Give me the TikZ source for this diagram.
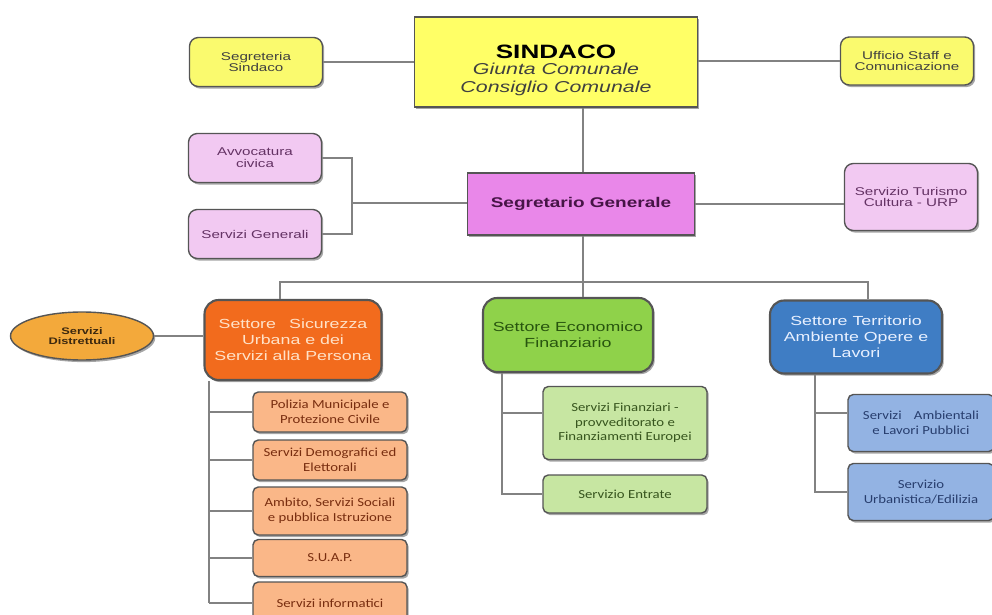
\documentclass[tikz,border=0pt]{standalone}
\usepackage{fontspec}
\setmainfont[FakeStretch=1.35]{Liberation Sans}
\newfontfamily\calfont[FakeStretch=1.2]{Carlito}
\usetikzlibrary{shapes.geometric,shadows}

\definecolor{bordo}{RGB}{85,85,85}
\definecolor{linea}{RGB}{130,130,130}
\definecolor{giallo}{RGB}{255,255,102}
\definecolor{gialloC}{RGB}{250,250,110}
\definecolor{viola}{RGB}{233,135,233}
\definecolor{violaT}{RGB}{70,20,70}
\definecolor{rosa}{RGB}{242,201,242}
\definecolor{rosaT}{RGB}{100,50,100}
\definecolor{arancio}{RGB}{242,107,29}
\definecolor{aranT}{RGB}{255,226,200}
\definecolor{aranEll}{RGB}{243,169,59}
\definecolor{ellT}{RGB}{60,40,15}
\definecolor{aranC}{RGB}{250,183,136}
\definecolor{aranCT}{RGB}{120,45,15}
\definecolor{verde}{RGB}{143,210,74}
\definecolor{verdeT}{RGB}{40,85,15}
\definecolor{verdeC}{RGB}{199,230,162}
\definecolor{verdeCT}{RGB}{55,85,30}
\definecolor{blu}{RGB}{63,125,196}
\definecolor{bluT}{RGB}{232,240,255}
\definecolor{bluC}{RGB}{147,179,227}
\definecolor{bluCT}{RGB}{40,62,110}

\begin{document}
\begin{tikzpicture}[x=0.02cm, y=-0.02cm,
    box/.style={draw=bordo, line width=0.8pt, align=center, inner sep=1pt,
        drop shadow={shadow xshift=1pt, shadow yshift=-1.2pt, fill=black, opacity=0.35}},
    rbox/.style={box, rounded corners=5pt},
    small/.style={rbox, minimum width=2.66cm, minimum height=0.98cm, font=\fontsize{6.4}{6.8}\selectfont},
    settore/.style={rbox, rounded corners=8pt, line width=1.2pt, font=\fontsize{7.5}{9}\selectfont},
    sub/.style={rbox, rounded corners=3pt, minimum width=3.08cm, font=\calfont\fontsize{7}{8.4}\selectfont},
    line/.style={draw=linea, line width=0.8pt}
]
    \path[use as bounding box, fill=white] (0,0) rectangle (992,615);

    % Sindaco
    \node[box, fill=giallo, minimum width=5.66cm, minimum height=1.8cm, font=\fontsize{9}{10}\selectfont] (sindaco) at (556,62)
        {\rule{0pt}{17pt}{\fontsize{11}{11}\selectfont\bfseries SINDACO}\\[-0.5pt]
         {\itshape\color{black!75}Giunta Comunale}\\
         {\itshape\color{black!75}Consiglio Comunale}};
    \node[small, fill=gialloC, text=black!75] (segreteria) at (256,62) {Segreteria\\Sindaco};
    \node[small, fill=gialloC, text=black!75, minimum height=0.96cm] (staff) at (907,61) {Ufficio Staff e\\Comunicazione};

    % Segretario
    \node[box, fill=viola, text=violaT, minimum width=4.54cm, minimum height=1.24cm,
        font=\fontsize{8}{10}\selectfont\bfseries] (segretario) at (581,204) {Segretario Generale};
    \node[small, fill=rosa, text=rosaT] (avvocatura) at (255,158) {Avvocatura\\civica};
    \node[small, fill=rosa, text=rosaT] (generali) at (255,234) {Servizi Generali};
    \node[small, fill=rosa, text=rosaT, minimum height=1.34cm] (turismo) at (911,197) {Servizio Turismo\\Cultura - URP};

    % Settori
    \node[settore, fill=arancio, text=aranT, minimum width=3.54cm, minimum height=1.6cm] (sicurezza) at (293,340)
        {Settore\quad Sicurezza\\Urbana e dei\\Servizi alla Persona};
    \node[settore, fill=verde, text=verdeT, minimum width=3.4cm, minimum height=1.48cm] (economico) at (568,335)
        {Settore Economico\\Finanziario};
    \node[settore, fill=blu, text=bluT, minimum width=3.44cm, minimum height=1.46cm] (territorio) at (856,337)
        {Settore Territorio\\Ambiente Opere e\\Lavori};
    \node[box, ellipse, fill=aranEll, text=ellT, minimum width=2.86cm, minimum height=0.96cm, inner sep=0pt,
        font=\fontsize{5.4}{6}\selectfont\bfseries] (distrettuali) at (82,336) {Servizi\\Distrettuali};

    % Uffici
    \node[sub, fill=aranC, text=aranCT, minimum height=0.8cm] (polizia) at (330,412) {Polizia Municipale e\\Protezione Civile};
    \node[sub, fill=aranC, text=aranCT, minimum height=0.8cm] (demografici) at (330,460) {Servizi Demografici ed\\Elettorali};
    \node[sub, fill=aranC, text=aranCT, minimum height=0.96cm] (ambito) at (330,511) {Ambito, Servizi Sociali\\e pubblica Istruzione};
    \node[sub, fill=aranC, text=aranCT, minimum height=0.74cm] (suap) at (330,558) {S.U.A.P.};
    \node[sub, fill=aranC, text=aranCT, minimum height=0.84cm] (informatici) at (330,603) {Servizi informatici};
    \node[sub, fill=verdeC, text=verdeCT, minimum width=3.28cm, minimum height=1.46cm] (finanziari) at (625,423)
        {Servizi Finanziari -\\provveditorato e\\Finanziamenti Europei};
    \node[sub, fill=verdeC, text=verdeCT, minimum width=3.28cm, minimum height=0.76cm] (entrate) at (625,494) {Servizio Entrate};
    \node[sub, fill=bluC, text=bluCT, minimum width=2.92cm, minimum height=1.14cm] (ambientali) at (921,423)
        {Servizi\quad Ambientali\\e Lavori Pubblici};
    \node[sub, fill=bluC, text=bluCT, minimum width=2.92cm, minimum height=1.14cm] (urbanistica) at (921,492)
        {Servizio\\Urbanistica/Edilizia};

    % Collegamenti
    \coordinate (tronco) at (583,282);
    \coordinate (busS) at (280,282);
    \coordinate (busD) at (868,282);
    \coordinate (graffa) at (352,203);
    \coordinate (spinaS) at (209,603);
    \coordinate (spinaE) at (502,495);
    \coordinate (spinaT) at (815,493);

    \draw[line] (segreteria) -- (sindaco);
    \draw[line] (sindaco.east |- staff) -- (staff);
    \draw[line] (sindaco.south -| tronco) -- (segretario.north -| tronco);
    \draw[line] (segretario.south -| tronco) -- (economico.north -| tronco);
    \draw[line] (sicurezza.north -| busS) -- (busS) -- (busD) -- (territorio.north -| busD);
    \draw[line] (avvocatura) -| (graffa) |- (generali);
    \draw[line] (graffa) -- (graffa -| segretario.west);
    \draw[line] (segretario.east) -- (segretario.east -| turismo.west);
    \draw[line] (distrettuali) -- (distrettuali -| sicurezza.west);

    \draw[line] (sicurezza.south -| spinaS) -- (spinaS);
    \foreach \n in {polizia, demografici, ambito, suap, informatici}
        \draw[line] (\n -| spinaS) -- (\n);
    \draw[line] (economico.south -| spinaE) -- (spinaE);
    \draw[line] ([yshift=0.2cm]finanziari.west -| spinaE) -- ([yshift=0.2cm]finanziari.west);
    \draw[line] (entrate -| spinaE) -- (entrate);
    \draw[line] (territorio.south -| spinaT) -- (spinaT);
    \draw[line] ([yshift=0.2cm]ambientali.west -| spinaT) -- ([yshift=0.2cm]ambientali.west);
    \draw[line] (urbanistica -| spinaT) -- (urbanistica);
\end{tikzpicture}
\end{document}
